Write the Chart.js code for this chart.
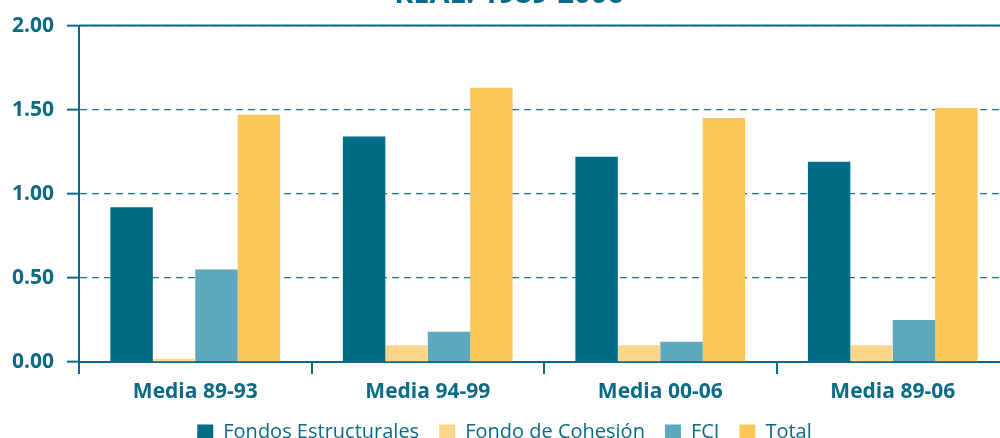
<!DOCTYPE html>
<html>
<head>
<meta charset="utf-8">
<script src="https://cdn.jsdelivr.net/npm/chart.js@4/dist/chart.umd.min.js"></script>
<style>
  html, body { margin: 0; padding: 0; overflow: hidden; background: #fff; }
  #wrap { width: 1010px; height: 452px; position: relative; }
</style>
</head>
<body>
<div id="wrap"><canvas id="barChart"></canvas></div>
<script>
const periods = ['Media 89-93', 'Media 94-99', 'Media 00-06', 'Media 89-06'];
const fondosEstructurales = [0.92, 1.34, 1.22, 1.19];
const fondoCohesion = [0.02, 0.10, 0.10, 0.10];
const fci = [0.55, 0.18, 0.12, 0.25];
const total = [1.47, 1.63, 1.45, 1.51];
const yTicks = [0, 0.5, 1, 1.5, 2];

const teal = '#0b6a85';
const font = "'Open Sans', sans-serif";

// top title (only its lower part shows in the picture) + rule under it
const titlePlugin = {
  id: 'titleRule',
  beforeDraw(chart) {
    const c = chart.ctx;
    c.save();
    c.fillStyle = teal;
    c.font = "bold 29px " + font;
    c.textAlign = 'center';
    c.textBaseline = 'alphabetic';
    c.fillText('REAL. 1989-2006', 509, 3);
    c.restore();
  },
  afterDraw(chart) {
    const c = chart.ctx, a = chart.chartArea;
    c.save();
    c.strokeStyle = teal;
    c.lineWidth = 2;
    c.beginPath();
    c.moveTo(a.left, a.top);
    c.lineTo(chart.width, a.top);
    c.stroke();
    c.restore();
  }
};

const config = {
  type: 'bar',
  data: {
    labels: periods,
    datasets: [
      { label: 'Fondos Estructurales', data: fondosEstructurales, backgroundColor: '#006d87' },
      { label: 'Fondo de Cohesión', data: fondoCohesion, backgroundColor: '#fed68b' },
      { label: 'FCI', data: fci, backgroundColor: '#5ea8bd' },
      { label: 'Total', data: total, backgroundColor: '#fdc659' }
    ]
  },
  options: {
    responsive: true,
    maintainAspectRatio: false,
    animation: false,
    datasets: { bar: { categoryPercentage: 0.73, barPercentage: 1.0, borderWidth: 0 } },
    layout: { padding: { top: 23, right: 1, left: 0, bottom: 0 } },
    plugins: {
      tooltip: { enabled: false },
      legend: {
        position: 'bottom',
        labels: {
          color: teal,
          font: { family: font, size: 20 },
          boxWidth: 16,
          boxHeight: 15,
          padding: 20
        }
      }
    },
    scales: {
      x: {
        afterFit(scale) { scale.height = 40; },
        grid: { drawOnChartArea: false, drawTicks: true, tickLength: 12, color: teal, lineWidth: 2 },
        border: { display: true, color: teal, width: 2 },
        ticks: { color: teal, font: { family: font, size: 21, weight: 'bold' }, padding: 5 }
      },
      y: {
        min: 0,
        max: 2,
        afterBuildTicks(scale) { scale.ticks = yTicks.map(v => ({ value: v })); },
        afterFit(scale) { scale.width = 79; },
        grid: {
          color: '#1d7690',
          lineWidth: 1.3,
          tickLength: 12,
          tickColor: teal,
          tickWidth: 2
        },
        border: { display: true, color: teal, width: 2, dash: [7, 5] },
        ticks: {
          color: teal,
          font: { family: font, size: 21, weight: 'bold' },
          padding: 13,
          callback: v => Number(v).toFixed(2)
        }
      }
    }
  },
  plugins: [titlePlugin]
};

document.addEventListener('DOMContentLoaded', () => {
  const ctx = document.getElementById('barChart').getContext('2d');
  new Chart(ctx, config);
});
</script>
</body>
</html>
